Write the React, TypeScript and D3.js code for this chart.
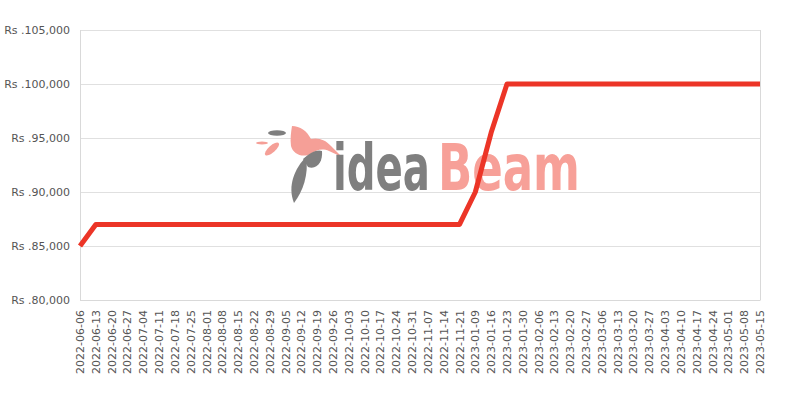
import React, { useLayoutEffect, useRef, useState } from "react";
import * as d3 from "d3";

const categories: string[] = [
  "2022-06-06","2022-06-13","2022-06-20","2022-06-27","2022-07-04","2022-07-11","2022-07-18","2022-07-25",
  "2022-08-01","2022-08-08","2022-08-15","2022-08-22","2022-08-29","2022-09-05","2022-09-12","2022-09-19",
  "2022-09-26","2022-10-03","2022-10-10","2022-10-17","2022-10-24","2022-10-31","2022-11-07","2022-11-14",
  "2022-11-21","2023-01-09","2023-01-16","2023-01-23","2023-01-30","2023-02-06","2023-02-13","2023-02-20",
  "2023-02-27","2023-03-06","2023-03-13","2023-03-20","2023-03-27","2023-04-03","2023-04-10","2023-04-17",
  "2023-04-24","2023-05-01","2023-05-08","2023-05-15"
];

const prices: number[] = [
  85000, 87000, 87000, 87000, 87000, 87000, 87000, 87000,
  87000, 87000, 87000, 87000, 87000, 87000, 87000, 87000,
  87000, 87000, 87000, 87000, 87000, 87000, 87000, 87000,
  87000, 90000, 95500, 100000, 100000, 100000, 100000, 100000,
  100000, 100000, 100000, 100000, 100000, 100000, 100000, 100000,
  100000, 100000, 100000, 100000
];

const yTicks: number[] = [80000, 85000, 90000, 95000, 100000, 105000];

const W = 800, H = 400;
const left = 80, right = 760, top = 30, bottom = 300;

export default function App() {
  const x = d3.scalePoint<string>().domain(categories).range([left, right]);
  const y = d3.scaleLinear().domain([80000, 105000]).range([bottom, top]);
  const line = d3.line<number>()
    .x((_, i) => x(categories[i]) as number)
    .y((d) => y(d));
  const fmt = d3.format(",");
  const font = "'DejaVu Sans', sans-serif";
  const logoFont = "'DejaVu Sans', sans-serif";

  const ideaRef = useRef<SVGTextElement>(null);
  const beamRef = useRef<SVGTextElement>(null);
  const [sx, setSx] = useState<[number, number]>([0.7, 0.7]);
  useLayoutEffect(() => {
    const a = ideaRef.current?.getComputedTextLength() || 0;
    const b = beamRef.current?.getComputedTextLength() || 0;
    if (a > 0 && b > 0) setSx([97 / a, 142 / b]);
  }, []);

  return (
    <svg width={W} height={H} style={{ position: "absolute", left: 0, top: 0, background: "#fff" }}>
      {/* grid */}
      {yTicks.map((t) => (
        <line key={t} x1={left} x2={right} y1={Math.round(y(t)) + 0.5} y2={Math.round(y(t)) + 0.5} stroke="#e0e0e0" strokeWidth={1} />
      ))}
      <line x1={left + 0.5} x2={left + 0.5} y1={top} y2={bottom} stroke="#d9d9d9" />
      <line x1={right + 0.5} x2={right + 0.5} y1={top} y2={bottom + 0.5} stroke="#d9d9d9" />
      <line x1={left} x2={right} y1={bottom + 0.5} y2={bottom + 0.5} stroke="#d9d9d9" />

      {/* watermark logo */}
      <g>
        <path d="M292,126 C300,126 307,131 311,139 C318,137 326,140 331,146 L342,157 L329,151 C322,148 316,150 311,154 C302,158 293,154 291,146 C290,139 291,132 292,126 Z" fill="#f59f97" />
        <path d="M306,157 C295,168 287,186 294,203 C303,191 309,174 306,157 Z" fill="#7f7f7f" />
        <path d="M303,159 C310,152 318,149 322,151 C323,162 317,170 308,167 Z" fill="#7f7f7f" />
        <ellipse cx={277} cy={133} rx={9} ry={2.8} fill="#7f7f7f" />
        <ellipse cx={262} cy={143} rx={6} ry={1.5} fill="#f59f97" />
        <ellipse cx={272} cy={149} rx={9} ry={3.5} fill="#f59f97" transform="rotate(-42 272 149)" />
        <g transform={`translate(333,190) scale(${sx[0]},1)`}>
          <text ref={ideaRef} x={0} y={0} fontFamily={logoFont} fontSize={64} fontWeight="bold" fill="#7f7f7f">idea</text>
        </g>
        <g transform={`translate(438,190) scale(${sx[1]},1)`}>
          <text ref={beamRef} x={0} y={0} fontFamily={logoFont} fontSize={64} fontWeight="bold" fill="#f7a098">Beam</text>
        </g>
      </g>

      {/* line */}
      <path d={line(prices) || ""} fill="none" stroke="#ec3527" strokeWidth={5} strokeLinejoin="round" />

      {/* y labels */}
      {yTicks.map((t) => (
        <text key={t} x={70} y={y(t) + 4} textAnchor="end" fontFamily={font} fontSize={11} fill="#555">
          {"Rs ." + fmt(t)}
        </text>
      ))}

      {/* x labels */}
      {categories.map((c) => {
        const px = x(c) as number;
        return (
          <text key={c} transform={`translate(${px + 4},${310}) rotate(-90)`} textAnchor="end" fontFamily={font} fontSize={11} fill="#555">
            {c}
          </text>
        );
      })}
    </svg>
  );
}
